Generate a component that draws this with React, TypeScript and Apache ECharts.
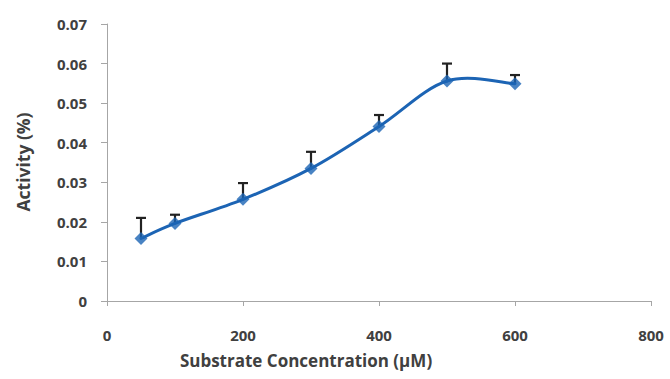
import React, { useEffect, useRef } from "react";
import * as echarts from "echarts";

const concentrations = [50, 100, 200, 300, 400, 500, 600];
const activity = [0.0158, 0.0196, 0.0257, 0.0335, 0.0441, 0.0556, 0.0549];
const errorTop = [0.021, 0.0218, 0.0298, 0.0377, 0.047, 0.06, 0.0571];
const xTicks = [0, 200, 400, 600, 800];
const yTicks = [0, 0.01, 0.02, 0.03, 0.04, 0.05, 0.06, 0.07];

const FONT = "'Open Sans', 'Liberation Sans', sans-serif";
const BLUE = "#1c64b4";

export default function App() {
  const ref = useRef<HTMLDivElement>(null);
  useEffect(() => {
    if (!ref.current) return;
    const chart = echarts.init(ref.current, undefined, { renderer: "svg" });
    const pointData = concentrations.map((c, i) => [c, activity[i]]);
    const errData = concentrations.map((c, i) => [c, activity[i], errorTop[i]]);
    const n = concentrations.length;
    chart.setOption({
      animation: false,
      backgroundColor: "#ffffff",
      grid: { left: 107, right: 19, top: 24, bottom: 78, containLabel: false },
      xAxis: {
        type: "value",
        min: xTicks[0],
        max: xTicks[xTicks.length - 1],
        interval: 200,
        axisLine: { show: true, lineStyle: { color: "#a6a6a6", width: 1 } },
        axisTick: { show: true, length: 5, lineStyle: { color: "#a6a6a6" } },
        splitLine: { show: false },
        axisLabel: { margin: 26, color: "#404040", fontSize: 15, fontWeight: "bold", fontFamily: FONT },
      },
      yAxis: {
        type: "value",
        min: yTicks[0],
        max: yTicks[yTicks.length - 1],
        interval: 0.01,
        axisLine: { show: true, lineStyle: { color: "#a6a6a6", width: 1 } },
        axisTick: { show: true, length: 6, lineStyle: { color: "#a6a6a6" } },
        splitLine: { show: false },
        axisLabel: {
          margin: 20,
          color: "#404040",
          fontSize: 15,
          fontWeight: "bold",
          fontFamily: FONT,
          formatter: (v: number) => (v === 0 ? "0" : String(Number(v.toFixed(2)))),
        },
      },
      graphic: [
        {
          type: "text",
          x: 306,
          y: 360,
          style: {
            text: "Substrate Concentration (\u00b5M)",
            fill: "#404040",
            font: `bold 17px ${FONT}`,
            textAlign: "center",
            textVerticalAlign: "middle",
          },
        },
        {
          type: "text",
          x: 23,
          y: 162,
          rotation: Math.PI / 2,
          style: {
            text: "Activity (%)",
            fill: "#404040",
            font: `bold 17.5px ${FONT}`,
            textAlign: "center",
            textVerticalAlign: "middle",
          },
        },
      ],
      series: [
        {
          type: "custom",
          data: errData,
          z: 1,
          renderItem: (params: any, api: any) => {
            const x = api.value(0);
            const p0 = api.coord([x, api.value(1)]);
            const p1 = api.coord([x, api.value(2)]);
            return {
              type: "group",
              children: [
                { type: "line", shape: { x1: p0[0], y1: p0[1], x2: p1[0], y2: p1[1] }, style: { stroke: "#222222", lineWidth: 2.2 } },
                { type: "line", shape: { x1: p1[0] - 5, y1: p1[1], x2: p1[0] + 5, y2: p1[1] }, style: { stroke: "#222222", lineWidth: 2.2 } },
              ],
            };
          },
        },
        {
          type: "custom",
          data: pointData,
          z: 2,
          renderItem: (params: any, api: any) => {
            const i = params.dataIndex;
            if (i >= n - 1) return { type: "group", children: [] };
            const pt = (j: number) => {
              const k = Math.max(0, Math.min(n - 1, j));
              return api.coord([concentrations[k], activity[k]]);
            };
            const pPrev = pt(i - 1);
            const p0 = pt(i);
            const p1 = pt(i + 1);
            const pNext = pt(i + 2);
            const f = 1 / 6;
            return {
              type: "bezierCurve",
              shape: {
                x1: p0[0],
                y1: p0[1],
                cpx1: p0[0] + (p1[0] - pPrev[0]) * f,
                cpy1: p0[1] + (p1[1] - pPrev[1]) * f,
                cpx2: p1[0] - (pNext[0] - p0[0]) * f,
                cpy2: p1[1] - (pNext[1] - p0[1]) * f,
                x2: p1[0],
                y2: p1[1],
              },
              style: { stroke: BLUE, lineWidth: 3, fill: null, lineCap: "round" },
            };
          },
        },
        {
          type: "scatter",
          data: pointData,
          z: 3,
          symbol: "diamond",
          symbolSize: 13,
          itemStyle: { color: BLUE },
        },
      ],
    });
    return () => chart.dispose();
  }, []);
  return (
    <div
      ref={ref}
      style={{ position: "absolute", left: 0, top: 0, width: 670, height: 379 }}
    />
  );
}
